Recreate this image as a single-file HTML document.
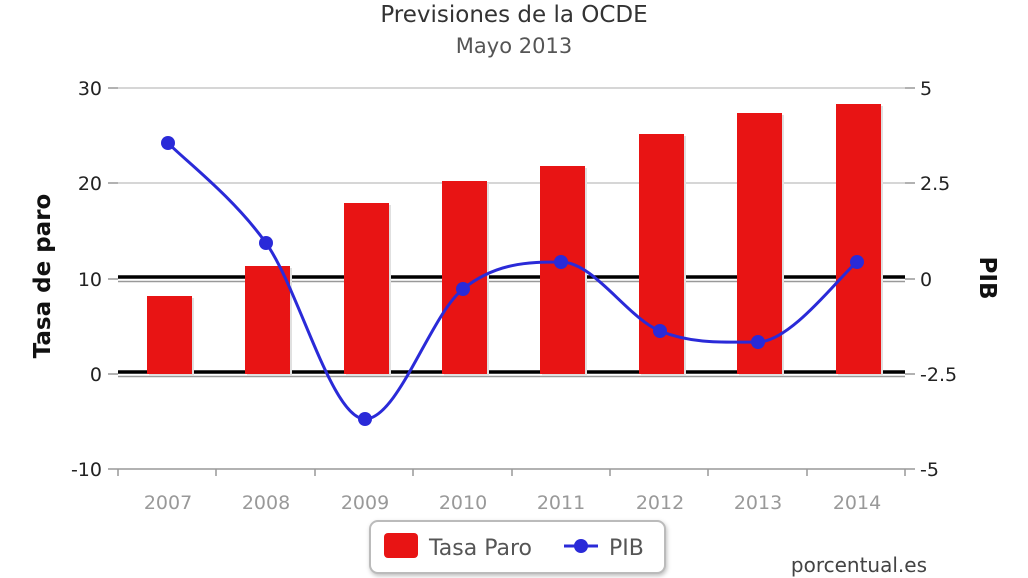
<!DOCTYPE html>
<html><head><meta charset="utf-8"><style>
body{margin:0;background:#fff;}
svg{display:block;font-family:"DejaVu Sans","Liberation Sans",sans-serif;}
</style></head><body>
<svg width="1028" height="578" viewBox="0 0 1028 578">
<text x="514" y="22" text-anchor="middle" font-size="23" fill="#333">Previsiones de la OCDE</text>
<text x="514" y="53" text-anchor="middle" font-size="21" fill="#555">Mayo 2013</text>
<g stroke="#c8c8c8" stroke-width="1.5">
<line x1="118" y1="88" x2="905" y2="88"/><line x1="118" y1="183" x2="905" y2="183"/>
</g>
<g stroke="#000" stroke-width="3.5"><line x1="118" y1="277" x2="905" y2="277"/><line x1="118" y1="372" x2="905" y2="372"/></g>
<g stroke="#999" stroke-width="1.5"><line x1="118" y1="281.5" x2="905" y2="281.5"/><line x1="118" y1="376.5" x2="905" y2="376.5"/></g>
<line x1="118" y1="469" x2="905" y2="469" stroke="#999" stroke-width="1.5"/>
<g stroke="#999" stroke-width="1.5">
<line x1="118" y1="469" x2="118" y2="476"/><line x1="216" y1="469" x2="216" y2="476"/><line x1="315" y1="469" x2="315" y2="476"/><line x1="413" y1="469" x2="413" y2="476"/><line x1="512" y1="469" x2="512" y2="476"/><line x1="610" y1="469" x2="610" y2="476"/><line x1="708" y1="469" x2="708" y2="476"/><line x1="807" y1="469" x2="807" y2="476"/><line x1="905" y1="469" x2="905" y2="476"/>
<line x1="108" y1="88" x2="118" y2="88"/><line x1="108" y1="183" x2="118" y2="183"/><line x1="108" y1="279" x2="118" y2="279"/><line x1="108" y1="374" x2="118" y2="374"/><line x1="108" y1="469" x2="118" y2="469"/>
<line x1="905" y1="88" x2="915" y2="88"/><line x1="905" y1="183" x2="915" y2="183"/><line x1="905" y1="279" x2="915" y2="279"/><line x1="905" y1="374" x2="915" y2="374"/><line x1="905" y1="469" x2="915" y2="469"/>
</g>
<g fill="#e0e0e0">
<rect x="149" y="298" width="45" height="78"/><rect x="247" y="268" width="45" height="108"/><rect x="346" y="205" width="45" height="171"/><rect x="444" y="183" width="45" height="193"/><rect x="542" y="168" width="45" height="208"/><rect x="641" y="136" width="45" height="240"/><rect x="739" y="115" width="45" height="261"/><rect x="838" y="106" width="45" height="270"/>
</g>
<g fill="#e81414">
<rect x="147" y="296" width="45" height="78"/><rect x="245" y="266" width="45" height="108"/><rect x="344" y="203" width="45" height="171"/><rect x="442" y="181" width="45" height="193"/><rect x="540" y="166" width="45" height="208"/><rect x="639" y="134" width="45" height="240"/><rect x="737" y="113" width="45" height="261"/><rect x="836" y="104" width="45" height="270"/>
</g>
<path d="M168,143 C184.3,159.7 233.2,197 266,243 C298.8,289 332,419 365,419 C398,419 430.3,315.2 463,289 C495.7,262.8 528,262 561,262 C594,262 627.2,317.7 660,331 C692.8,344.3 725,342 758,342 C791,342 840.5,275.3 857,262" fill="none" stroke="#2a2ad8" stroke-width="3"/>
<g fill="#2a2ad8">
<circle cx="168" cy="143" r="7"/><circle cx="266" cy="243" r="7"/><circle cx="365" cy="419" r="7"/><circle cx="463" cy="289" r="7"/><circle cx="561" cy="262" r="7"/><circle cx="660" cy="331" r="7"/><circle cx="758" cy="342" r="7"/><circle cx="857" cy="262" r="7"/>
</g>
<g font-size="19" fill="#222" text-anchor="end">
<text x="102" y="95">30</text><text x="102" y="190">20</text><text x="102" y="286">10</text><text x="102" y="381">0</text><text x="102" y="476">-10</text>
</g>
<g font-size="19" fill="#222">
<text x="920" y="95">5</text><text x="920" y="190">2.5</text><text x="920" y="286">0</text><text x="920" y="381">-2.5</text><text x="920" y="476">-5</text>
</g>
<g font-size="19" fill="#999" text-anchor="middle">
<text x="168" y="509">2007</text><text x="266" y="509">2008</text><text x="365" y="509">2009</text><text x="463" y="509">2010</text><text x="561" y="509">2011</text><text x="660" y="509">2012</text><text x="758" y="509">2013</text><text x="857" y="509">2014</text>
</g>
<text transform="translate(50,276) rotate(-90)" text-anchor="middle" font-size="23" font-weight="bold" fill="#111">Tasa de paro</text>
<text transform="translate(980,278) rotate(90)" text-anchor="middle" font-size="23" font-weight="bold" fill="#111">PIB</text>
<rect x="370" y="521" width="295" height="52" rx="8" fill="#fff" stroke="#bbb" stroke-width="2" style="filter:drop-shadow(1px 2px 2px rgba(0,0,0,0.25))"/>
<rect x="384" y="533" width="34" height="25" rx="4" fill="#e81414"/>
<text x="429" y="555" font-size="22" fill="#555">Tasa Paro</text>
<line x1="564" y1="546" x2="598" y2="546" stroke="#2a2ad8" stroke-width="3"/>
<circle cx="581" cy="546" r="7" fill="#2a2ad8"/>
<text x="609" y="555" font-size="22" fill="#555">PIB</text>
<text x="927" y="572" text-anchor="end" font-size="20" fill="#444">porcentual.es</text>
</svg>
</body></html>
